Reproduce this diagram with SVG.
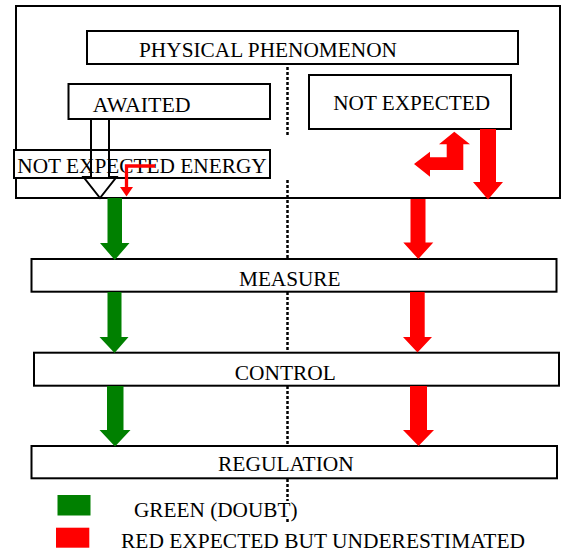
<svg xmlns="http://www.w3.org/2000/svg" width="562" height="554" viewBox="0 0 562 554">
<style>
.box{fill:#fff;stroke:#000;stroke-width:2}
.t{font-family:"Liberation Serif","Times New Roman",serif;font-size:21px;fill:#000}
.g{fill:#008000}
.r{fill:#ff0000}
.dot{stroke:#000;stroke-width:2.5;stroke-dasharray:3 2;fill:none}
</style>
<rect width="562" height="554" fill="#fff"/>
<g id="outer"><rect class="box" x="16" y="6" width="544" height="192"/></g>
<g id="physical"><rect class="box" x="87" y="31" width="431" height="33"/><text class="t" x="139" y="57" textLength="258" lengthAdjust="spacingAndGlyphs">PHYSICAL PHENOMENON</text></g>
<g id="awaited"><rect class="box" x="68.5" y="84" width="201.5" height="35"/><text class="t" x="92.7" y="111.7" textLength="98" lengthAdjust="spacingAndGlyphs">AWAITED</text></g>
<g id="notexpected"><rect class="box" x="309" y="75" width="202" height="54"/><text class="t" x="333.3" y="109.5" textLength="156.7" lengthAdjust="spacingAndGlyphs">NOT EXPECTED</text></g>
<g id="energy"><rect class="box" x="14" y="150" width="256" height="28"/><text class="t" x="17.3" y="173" textLength="249.4" lengthAdjust="spacingAndGlyphs">NOT EXPECTED ENERGY</text></g>
<g id="measure"><rect class="box" x="31.5" y="259" width="525" height="32.7"/><text class="t" x="239" y="285.7" textLength="101.5" lengthAdjust="spacingAndGlyphs">MEASURE</text></g>
<g id="control"><rect class="box" x="34" y="352.7" width="525" height="33"/><text class="t" x="234.8" y="380" textLength="101" lengthAdjust="spacingAndGlyphs">CONTROL</text></g>
<g id="regulation"><rect class="box" x="31.5" y="446" width="525.5" height="32.3"/><text class="t" x="218" y="471" textLength="135.8" lengthAdjust="spacingAndGlyphs">REGULATION</text></g>
<g id="divider">
<path class="dot" d="M287.5,67V135M287.5,180V259M287.5,292V352M287.5,386V446M287.5,479V501M287.5,519V523"/>
</g>
<g id="connectors">
<path d="M91,119V177H83.5L100,198L116.5,177H109V119" fill="none" stroke="#000" stroke-width="2"/>
<polyline points="155,166 126.5,166 126.5,189" fill="none" stroke="#ff0000" stroke-width="3.3"/>
<polygon class="r" points="120,187 133,187 126.5,196.5"/>
<polygon class="r" points="480,129 496,129 496,182 503,182 488,199.5 473,182 480,182"/>
<polygon class="r" points="454.3,131.7 470,144.3 463.3,144.3 463.3,170 430,170 430,176.7 414,164 430,151.7 430,157.3 446.7,157.3 446.7,144.3 439,144.3"/>
<polygon class="g" points="107.5,198 122,198 122,243 129.5,243 114.75,260 100,243 107.5,243"/>
<polygon class="g" points="107.5,292 121.5,292 121.5,337 128.5,337 114.5,353 99.5,337 107.5,337"/>
<polygon class="g" points="107,386 123.5,386 123.5,430 130.5,430 115,446.5 99.5,430 107,430"/>
<polygon class="r" points="410.5,199 425.5,199 425.5,242.5 433.3,242.5 418.3,259 403.3,242.5 410.5,242.5"/>
<polygon class="r" points="410,292 424.7,292 424.7,337 432,337 417.5,352.5 403,337 410,337"/>
<polygon class="r" points="410,386 427,386 427,430 434,430 418.5,446 403,430 410,430"/>
</g>
<g id="legend">
<rect class="g" x="57.5" y="495" width="33" height="20.5"/>
<text class="t" x="134" y="516.7" textLength="163.5" lengthAdjust="spacingAndGlyphs">GREEN (DOUBT)</text>
<rect class="r" x="56" y="527.7" width="33.3" height="20"/>
<text class="t" x="121" y="548" textLength="404" lengthAdjust="spacingAndGlyphs">RED EXPECTED BUT UNDERESTIMATED</text>
</g>
</svg>
